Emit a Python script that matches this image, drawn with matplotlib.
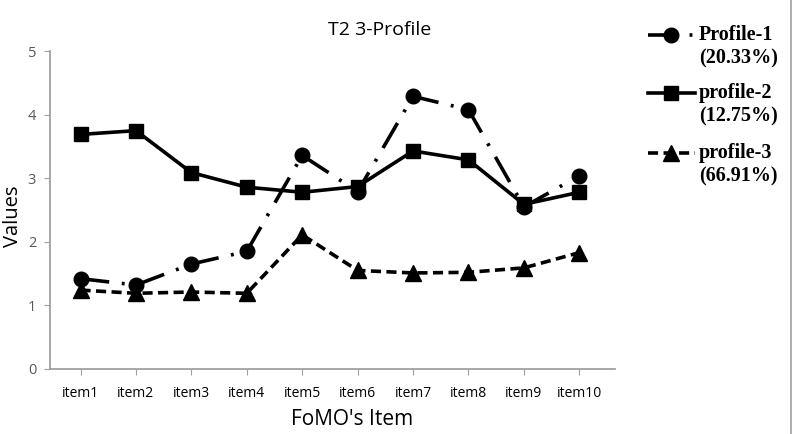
import numpy as np
import matplotlib.pyplot as plt
from matplotlib.lines import Line2D

items = ['item1', 'item2', 'item3', 'item4', 'item5', 'item6', 'item7', 'item8', 'item9', 'item10']
profile1 = [1.42, 1.32, 1.65, 1.85, 3.36, 2.79, 4.29, 4.08, 2.55, 3.04]
profile2 = [3.69, 3.75, 3.09, 2.86, 2.78, 2.87, 3.43, 3.29, 2.59, 2.78]
profile3 = [1.24, 1.19, 1.21, 1.19, 2.11, 1.55, 1.51, 1.52, 1.59, 1.83]
names = ['Profile-1', 'profile-2', 'profile-3']
shares = ['(20.33%)', '(12.75%)', '(66.91%)']

W, H = 794, 434
fig = plt.figure(figsize=(W / 100, H / 100), dpi=100)
ax = fig.add_axes([0.063, 0.15, 0.712, 0.732])

lw = 2.6
styles = [dict(marker='o', ms=10.5, linestyle=(0, (8, 3.5, 0.8, 3.5))),
          dict(marker='s', ms=10.5, linestyle='-'),
          dict(marker='^', ms=11.5, linestyle=(0, (2.8, 1.5)))]

x = np.arange(len(items))
for vals, st in zip([profile1, profile2, profile3], styles):
    ax.plot(x, vals, color='black', lw=lw, **st)

ax.set_xlim(-0.55, 9.65)
ax.set_ylim(0, 5)
ax.set_xticks(x)
ax.set_xticklabels(items, fontsize=10, family='Open Sans')
ax.set_yticks([0, 1, 2, 3, 4, 5])
ax.set_yticklabels(['0', '1', '2', '3', '4', '5'], fontsize=10.5, color='#595959', family='Open Sans')
ax.tick_params(axis='x', length=4, color='#a0a0a0', pad=8)
ax.tick_params(axis='y', length=4, color='#a0a0a0', pad=6)
for s in ['top', 'right']:
    ax.spines[s].set_visible(False)
for s in ['left', 'bottom']:
    ax.spines[s].set_color('#a0a0a0')
    ax.spines[s].set_linewidth(1.3)

ax.set_xlabel("FoMO's Item", fontsize=15, family='Open Sans')
ax.xaxis.set_label_coords(0.534, -0.125)
ax.set_ylabel('Values', fontsize=14.5, family='Open Sans')
ax.yaxis.set_label_coords(-0.047, 0.48)
fig.text(380 / W, 1 - 30 / H, 'T2 3-Profile', fontsize=14, family='Open Sans',
         ha='center', va='center')

# legend, drawn by hand so the handle sits on the first text line
rows = [35, 93, 153]
for name, share, st, yp in zip(names, shares, styles, rows):
    yf = 1 - yp / H
    fig.add_artist(Line2D([648 / W, 671 / W, 695 / W], [yf, yf, yf], color='black', lw=lw,
                          marker=st['marker'], ms=st['ms'], markevery=[1],
                          linestyle=st['linestyle']))
    fig.text(699 / W, yf, name, fontsize=14.5, family='Liberation Serif', weight='bold',
             va='center', ha='left')
    fig.text(699 / W, 1 - (yp + 23) / H, share, fontsize=14.5, family='Liberation Serif',
             weight='bold', va='center', ha='left')

# image frame line on the right edge
fig.add_artist(Line2D([0.9965, 0.9965], [0, 1], color='#a0a0a0', lw=1.2))

fig.savefig('out.png', dpi=100)
